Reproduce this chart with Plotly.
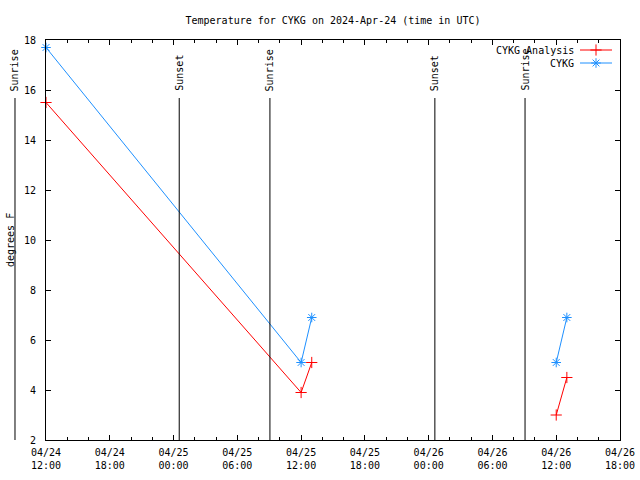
import pandas as pd
import plotly.graph_objects as go

# ---- data ----
times = ["2024-04-24 12:00", "2024-04-25 12:00", "2024-04-25 13:00", "2024-04-25 14:00",
         "2024-04-26 12:00", "2024-04-26 13:00"]
analysis_vals = [15.5, 3.9, 5.1, None, 3.0, 4.5]
cykg_vals = [17.7, 5.1, 6.9, None, 5.1, 6.9]
series_names = ["CYKG Analysis", "CYKG"]
series_colors = ["#ff0000", "#1e90ff"]
series_symbols = ["cross-thin-open", "asterisk-open"]

sun_times = ["2024-04-24 09:05", "2024-04-25 00:32", "2024-04-25 09:04",
             "2024-04-26 00:35", "2024-04-26 09:04"]
sun_labels = ["Sunrise", "Sunset", "Sunrise", "Sunset", "Sunrise"]

x_start = "2024-04-24 12:00"
x_end = "2024-04-26 18:00"
y_range = [2, 18]
title = "Temperature for CYKG on 2024-Apr-24 (time in UTC)"
y_title = "degrees F"

# ---- layout constants (pixels) ----
W, H = 640, 480
L, R, T, B = 46, 20, 40, 40
PW, PH = W - L - R, H - T - B
FONT = "DejaVu Sans Mono"
MSIZE = 8

t0 = pd.Timestamp(x_start)
t1 = pd.Timestamp(x_end)


def tfrac(t):
    return (pd.Timestamp(t) - t0) / (t1 - t0)


def px_x(px):
    return (px - L) / PW


def px_y(py):
    return (H - B - py) / PH


fig = go.Figure()

for name, vals, col, sym in zip(series_names, [analysis_vals, cykg_vals],
                                series_colors, series_symbols):
    fig.add_trace(go.Scatter(
        x=times, y=vals, mode="lines+markers", name=name,
        line=dict(color=col, width=1),
        marker=dict(symbol=sym, size=MSIZE, color=col, line=dict(color=col, width=1)),
        connectgaps=False, cliponaxis=False, showlegend=False))

# sunrise / sunset markers
shapes = []
annotations = []
for st, lab in zip(sun_times, sun_labels):
    fx = tfrac(st)
    shapes.append(dict(type="line", xref="paper", yref="paper",
                       x0=fx, x1=fx, y0=0, y1=px_y(98),
                       line=dict(color="black", width=1)))
    annotations.append(dict(xref="paper", yref="paper", x=fx + 0.5 / PW, y=px_y(93),
                            text=lab, textangle=-90, showarrow=False,
                            xanchor="center", yanchor="bottom",
                            font=dict(family=FONT, size=10, color="black")))

# y-axis title
annotations.append(dict(xref="paper", yref="paper", x=px_x(10), y=0.5,
                        text=y_title, textangle=-90, showarrow=False,
                        xanchor="center", yanchor="middle",
                        font=dict(family=FONT, size=10, color="black")))

# manual gnuplot-style key (text, then sample)
key_rows = [50, 63]
for name, col, sym, ry in zip(series_names, series_colors, series_symbols, key_rows):
    annotations.append(dict(xref="paper", yref="paper", x=px_x(576), y=px_y(ry),
                            text=name, showarrow=False, xanchor="right",
                            yanchor="middle",
                            font=dict(family=FONT, size=10, color="black")))
    fig.add_trace(go.Scatter(
        x=[px_x(580), px_x(612)], y=[px_y(ry), px_y(ry)], mode="lines",
        line=dict(color=col, width=1), xaxis="x2", yaxis="y2",
        showlegend=False, hoverinfo="skip", cliponaxis=False))
    fig.add_trace(go.Scatter(
        x=[px_x(596)], y=[px_y(ry)], mode="markers",
        marker=dict(symbol=sym, size=MSIZE, color=col, line=dict(color=col, width=1)),
        xaxis="x2", yaxis="y2", showlegend=False, hoverinfo="skip",
        cliponaxis=False))

fig.update_layout(
    width=W, height=H,
    margin=dict(l=L, r=R, t=T, b=B, autoexpand=False),
    paper_bgcolor="white", plot_bgcolor="white",
    font=dict(family=FONT, size=10, color="black"),
    title=dict(text=title, x=(L + PW / 2) / W, xanchor="center",
               y=1 - 20 / H, yanchor="middle",
               font=dict(family=FONT, size=10, color="black")),
    showlegend=False,
    shapes=shapes, annotations=annotations,
    xaxis=dict(type="date", range=[x_start, x_end],
               tick0=x_start, dtick=6 * 3600 * 1000,
               tickformat="%m/%d<br>%H:%M", automargin=False,
               ticks="inside", ticklen=5, tickcolor="black",
               minor=dict(dtick=2 * 3600 * 1000, ticks="inside", ticklen=3,
                          tickcolor="black", showgrid=False),
               showline=True, linecolor="black", linewidth=1, mirror="ticks",
               showgrid=False, zeroline=False, ticklabelstandoff=3,
               tickfont=dict(family=FONT, size=10, color="black")),
    yaxis=dict(range=y_range, dtick=2, tick0=2, automargin=False,
               ticks="inside", ticklen=5, tickcolor="black",
               showline=True, linecolor="black", linewidth=1, mirror="ticks",
               showgrid=False, zeroline=False, ticklabelstandoff=7,
               tickfont=dict(family=FONT, size=10, color="black")),
    xaxis2=dict(range=[0, 1], overlaying="x", visible=False, fixedrange=True),
    yaxis2=dict(range=[0, 1], overlaying="y", visible=False, fixedrange=True),
)

fig.write_html("out.html",
               config={"displayModeBar": False, "staticPlot": True},
               post_script="document.body.style.margin='0';"
                           "document.body.style.overflow='hidden';")
